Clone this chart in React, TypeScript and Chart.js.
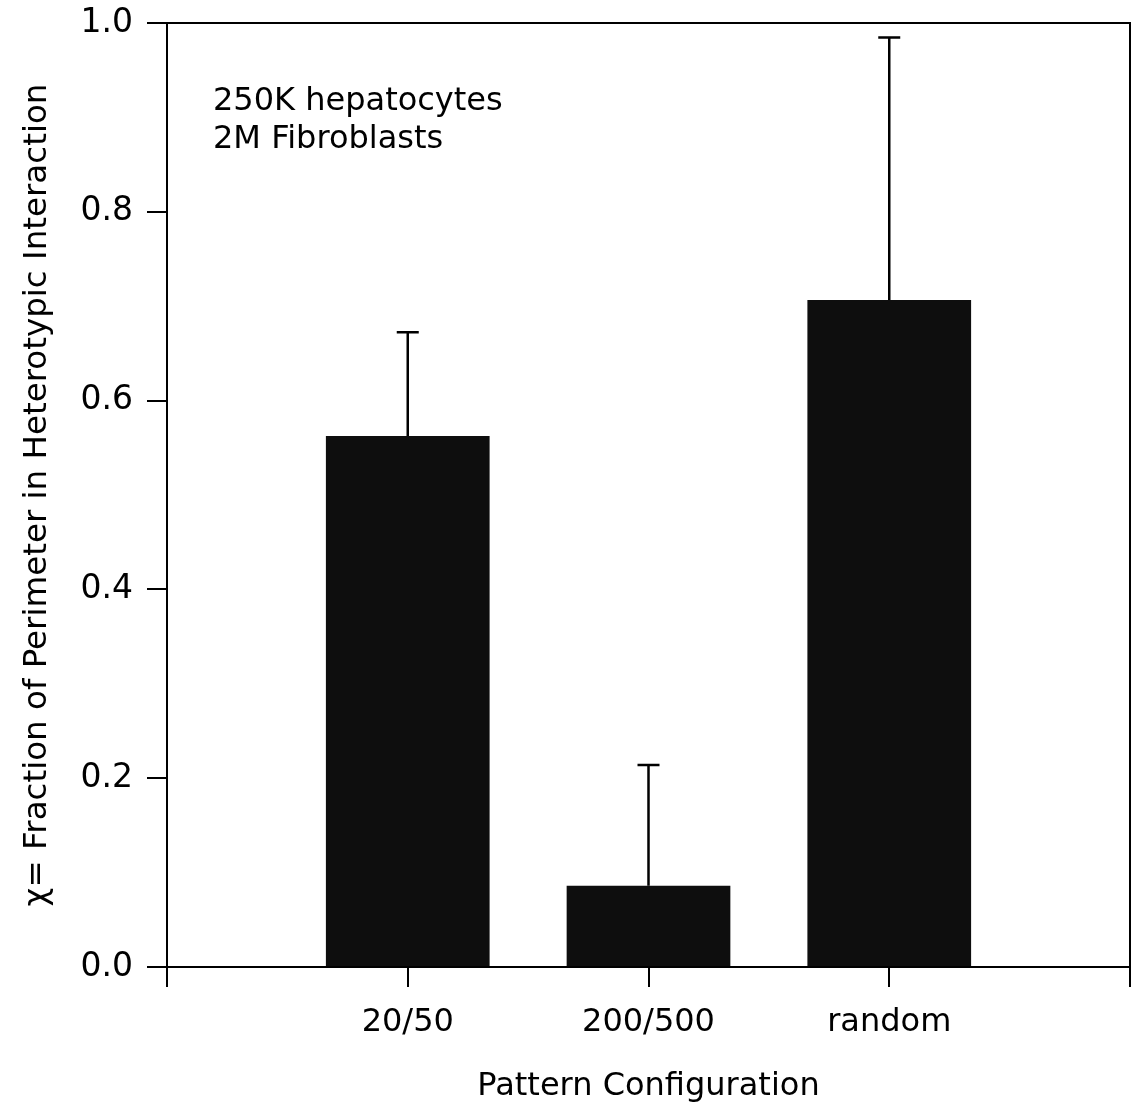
import { useEffect, useRef } from "react";
import { Chart, registerables } from "chart.js";

Chart.register(...registerables);

const categories = ["", "20/50", "200/500", "random", ""];
const means = [null, 0.5625, 0.086, 0.7066, null];
const errorUp = [null, 0.11, 0.128, 0.278, null];
const yTickValues = [0, 0.2, 0.4, 0.6, 0.8, 1.0];
const noteLines = ["250K hepatocytes", "2M Fibroblasts"];
const yTitle = "\u03c7= Fraction of Perimeter in Heterotypic Interaction";
const xTitle = "Pattern Configuration";

const FONT = "'DejaVu Sans', 'Liberation Sans', Arial, sans-serif";

const errorBarPlugin = {
  id: "errorBars",
  afterDatasetsDraw(chart: any) {
    const { ctx, scales } = chart;
    const x = scales.x;
    const y = scales.y;
    ctx.save();
    ctx.strokeStyle = "#000";
    ctx.lineWidth = 2.5;
    means.forEach((m, i) => {
      if (m == null || errorUp[i] == null) return;
      const px = x.getPixelForValue(i);
      const y0 = y.getPixelForValue(m);
      const y1 = y.getPixelForValue(m + (errorUp[i] as number));
      ctx.beginPath();
      ctx.moveTo(px, y0);
      ctx.lineTo(px, y1);
      ctx.moveTo(px - 11, y1);
      ctx.lineTo(px + 11, y1);
      ctx.stroke();
    });
    ctx.restore();
  },
};

const framePlugin = {
  id: "frame",
  afterDraw(chart: any) {
    const { ctx, chartArea } = chart;
    const { left, right, top, bottom } = chartArea;
    ctx.save();
    ctx.strokeStyle = "#000";
    ctx.lineWidth = 2;
    ctx.beginPath();
    ctx.moveTo(left, top);
    ctx.lineTo(right, top);
    ctx.lineTo(right, bottom);
    ctx.stroke();
    ctx.fillStyle = "#000";
    ctx.font = `32px ${FONT}`;
    ctx.textBaseline = "alphabetic";
    ctx.textAlign = "left";
    noteLines.forEach((t, i) => {
      ctx.fillText(t, left + 46, top + 87 + i * 38);
    });
    ctx.restore();
  },
};

export default function App() {
  const ref = useRef<HTMLCanvasElement | null>(null);
  useEffect(() => {
    if (!ref.current) return;
    const chart = new Chart(ref.current, {
      type: "bar",
      data: {
        labels: categories,
        datasets: [
          {
            data: means as any,
            backgroundColor: "#0e0e0e",
            borderWidth: 0,
            barPercentage: 0.68,
            categoryPercentage: 1,
          },
        ],
      },
      options: {
        responsive: false,
        animation: false,
        layout: { padding: { top: 23, right: 7, left: 0, bottom: 0 } },
        plugins: { legend: { display: false }, tooltip: { enabled: false } },
        scales: {
          x: {
            type: "category",
            offset: false,
            grid: {
              offset: false,
              drawOnChartArea: false,
              drawTicks: true,
              tickLength: 20,
              color: "#000",
              lineWidth: 2,
            },
            border: { display: true, color: "#000", width: 2 },
            ticks: {
              autoSkip: false,
              maxRotation: 0,
              padding: 16,
              color: "#000",
              font: { family: FONT, size: 32 },
            },
            title: {
              display: true,
              text: xTitle,
              color: "#000",
              font: { family: FONT, size: 32 },
              padding: { top: 0, bottom: 3 },
            },
            afterFit: (s: any) => {
              s.height = 142;
              s.paddingLeft = 0;
              s.paddingRight = 0;
            },
          },
          y: {
            min: 0,
            max: 1,
            afterBuildTicks: (s: any) => {
              s.ticks = yTickValues.map((v) => ({ value: v }));
            },
            grid: {
              drawOnChartArea: false,
              drawTicks: true,
              tickLength: 20,
              color: "#000",
              lineWidth: 2,
            },
            border: { display: true, color: "#000", width: 2 },
            ticks: {
              padding: 14,
              color: "#000",
              font: { family: FONT, size: 33 },
              callback: (v: any) => Number(v).toFixed(1),
            },
            title: {
              display: true,
              text: yTitle,
              color: "#000",
              font: { family: FONT, size: 32.5 },
              padding: { top: 18, bottom: 0 },
            },
            afterFit: (s: any) => {
              s.width = 167;
              s.paddingTop = 0;
              s.paddingBottom = 0;
            },
          },
        },
      },
      plugins: [errorBarPlugin, framePlugin],
    });
    return () => chart.destroy();
  }, []);
  return (
    <div style={{ position: "absolute", left: 0, top: 0, width: 1137, height: 1109, background: "#fff" }}>
      <canvas ref={ref} width={1137} height={1109} />
    </div>
  );
}
